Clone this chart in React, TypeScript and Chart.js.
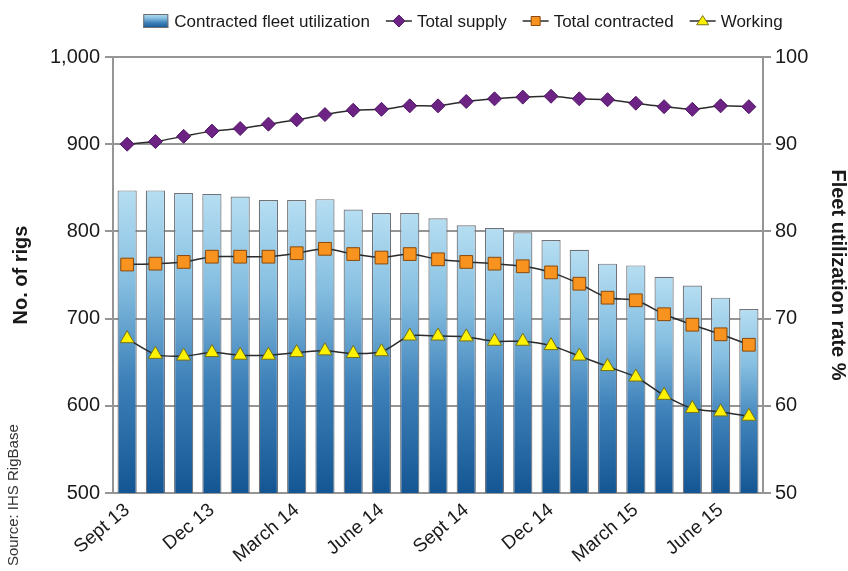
import React, { useEffect, useRef } from 'react';
import { Chart, registerables } from 'chart.js';

Chart.register(...registerables);

const categories = [
  'Sept 13', 'Oct 13', 'Nov 13', 'Dec 13', 'Jan 14', 'Feb 14', 'March 14', 'April 14',
  'May 14', 'June 14', 'July 14', 'Aug 14', 'Sept 14', 'Oct 14', 'Nov 14', 'Dec 14',
  'Jan 15', 'Feb 15', 'March 15', 'April 15', 'May 15', 'June 15', 'July 15',
];
const tickLabels = ['Sept 13', 'Dec 13', 'March 14', 'June 14', 'Sept 14', 'Dec 14', 'March 15', 'June 15'];

const contractedUtilization = [
  84.7, 84.7, 84.4, 84.3, 84.0, 83.6, 83.6, 83.7, 82.5, 82.1, 82.1, 81.5,
  80.7, 80.4, 79.9, 79.0, 77.9, 76.3, 76.1, 74.8, 73.8, 72.4, 71.1,
];
const totalSupply = [
  900, 903, 909, 915, 918, 923, 928, 934, 939, 940, 944, 944,
  949, 952, 954, 955, 952, 951, 947, 943, 940, 944, 943,
];
const totalContracted = [
  762, 763, 765, 771, 771, 771, 775, 780, 774, 770, 774, 768,
  765, 763, 760, 753, 740, 724, 721, 705, 693, 682, 670,
];
const working = [
  677, 659, 657, 661, 658, 658, 661, 663, 660, 662, 680, 680,
  679, 674, 674, 669, 657, 645, 633, 612, 597, 593, 588,
];

const seriesNames = ['Contracted fleet utilization', 'Total supply', 'Total contracted', 'Working'];
const leftAxisTitle = 'No. of rigs';
const rightAxisTitle = 'Fleet utilization rate %';
const sourceText = 'Source: IHS RigBase';

const FONT = '"Liberation Sans", Arial, Helvetica, sans-serif';
const LINE = '#2b2b2b';
const GRID = '#959595';

function makeBarGradient(ctx: CanvasRenderingContext2D, top: number, bottom: number) {
  const g = ctx.createLinearGradient(0, top, 0, bottom);
  g.addColorStop(0, '#b6def2');
  g.addColorStop(0.3, '#86bfe1');
  g.addColorStop(0.62, '#3f82ba');
  g.addColorStop(1, '#135693');
  return g;
}

function drawMarker(ctx: CanvasRenderingContext2D, kind: string, x: number, y: number, r: number, fill: string, stroke: string) {
  ctx.save();
  ctx.beginPath();
  if (kind === 'diamond') {
    ctx.moveTo(x, y - r);
    ctx.lineTo(x + r, y);
    ctx.lineTo(x, y + r);
    ctx.lineTo(x - r, y);
    ctx.closePath();
  } else if (kind === 'square') {
    const s = r * 0.75;
    ctx.rect(x - s, y - s, 2 * s, 2 * s);
  } else {
    const h = r * 0.9;
    ctx.moveTo(x, y - h);
    ctx.lineTo(x + r, y + h * 0.7);
    ctx.lineTo(x - r, y + h * 0.7);
    ctx.closePath();
  }
  ctx.fillStyle = fill;
  ctx.fill();
  ctx.lineWidth = 1;
  ctx.strokeStyle = stroke;
  ctx.stroke();
  ctx.restore();
}

export default function App() {
  const ref = useRef<HTMLCanvasElement>(null);

  useEffect(() => {
    document.body.style.margin = '0';
    if (!ref.current) return;

    const legendPlugin = {
      id: 'customLegend',
      afterDraw(chart: any) {
        const ctx: CanvasRenderingContext2D = chart.ctx;
        ctx.save();
        ctx.font = `17px ${FONT}`;
        ctx.textBaseline = 'middle';
        const iconW = 26;
        const gapIcon = 5;
        const gapItem = 16;
        const widths = seriesNames.map((n) => ctx.measureText(n).width);
        const total = widths.reduce((a, b) => a + b, 0) + seriesNames.length * (iconW + gapIcon) + (seriesNames.length - 1) * gapItem;
        let x = 463 - total / 2;
        const y = 21;
        const markers = [
          null,
          { kind: 'diamond', fill: '#6c2384', stroke: '#4e1563' },
          { kind: 'square', fill: '#f7931e', stroke: '#8a4a0c' },
          { kind: 'triangle', fill: '#fff200', stroke: '#76701a' },
        ];
        seriesNames.forEach((name, i) => {
          if (i === 0) {
            ctx.fillStyle = makeBarGradient(ctx, y - 7, y + 7);
            ctx.fillRect(x, y - 7, iconW - 1, 14);
            ctx.strokeStyle = '#6f6f6f';
            ctx.lineWidth = 1;
            ctx.strokeRect(x + 0.5, y - 6.5, iconW - 2, 13);
          } else {
            const m = markers[i]!;
            ctx.strokeStyle = LINE;
            ctx.lineWidth = 1.5;
            ctx.beginPath();
            ctx.moveTo(x, y);
            ctx.lineTo(x + iconW, y);
            ctx.stroke();
            drawMarker(ctx, m.kind, x + iconW / 2, y, 6, m.fill, m.stroke);
          }
          x += iconW + gapIcon;
          ctx.fillStyle = '#1a1a1a';
          ctx.textAlign = 'left';
          ctx.fillText(name, x, y + 1);
          x += widths[i] + gapItem;
        });

        // source note
        ctx.translate(18, 566);
        ctx.rotate(-Math.PI / 2);
        ctx.font = `15px ${FONT}`;
        ctx.fillStyle = '#333333';
        ctx.textAlign = 'left';
        ctx.textBaseline = 'alphabetic';
        ctx.fillText(sourceText, 0, 0);
        ctx.restore();
      },
    };

    const chart = new Chart(ref.current, {
      type: 'bar',
      data: {
        labels: categories,
        datasets: [
          {
            type: 'line',
            label: seriesNames[1],
            data: totalSupply,
            yAxisID: 'y',
            borderColor: LINE,
            borderWidth: 1.5,
            tension: 0.25,
            pointStyle: 'rectRot',
            pointRadius: 7,
            pointBackgroundColor: '#6c2384',
            pointBorderColor: '#501766',
            pointBorderWidth: 1,
            order: 1,
          } as any,
          {
            type: 'line',
            label: seriesNames[2],
            data: totalContracted,
            yAxisID: 'y',
            borderColor: LINE,
            borderWidth: 1.5,
            tension: 0.25,
            pointStyle: 'rect',
            pointRadius: 9,
            pointBackgroundColor: '#f7931e',
            pointBorderColor: '#8a4a0c',
            pointBorderWidth: 1,
            order: 2,
          } as any,
          {
            type: 'line',
            label: seriesNames[3],
            data: working,
            yAxisID: 'y',
            borderColor: LINE,
            borderWidth: 1.5,
            tension: 0.25,
            pointStyle: 'triangle',
            pointRadius: 8,
            pointBackgroundColor: '#fff200',
            pointBorderColor: '#76701a',
            pointBorderWidth: 1,
            order: 3,
          } as any,
          {
            type: 'bar',
            label: seriesNames[0],
            data: contractedUtilization,
            yAxisID: 'y1',
            backgroundColor: (c: any) => {
              const ch = c.chart;
              if (!ch.chartArea || c.type !== 'data') return '#6aa9d6';
              const s = ch.scales.y1;
              const top = s.getPixelForValue(c.raw);
              const bottom = s.getPixelForValue(s.min);
              return makeBarGradient(ch.ctx, top, bottom);
            },
            borderColor: '#6f7379',
            borderWidth: 1.2,
            barPercentage: 0.68,
            categoryPercentage: 1,
            order: 10,
          } as any,
        ],
      },
      options: {
        responsive: true,
        maintainAspectRatio: false,
        animation: false,
        layout: { padding: { top: 57, left: 0, right: 0, bottom: 0 } },
        plugins: {
          legend: { display: false },
          tooltip: { enabled: false },
        },
        scales: {
          x: {
            type: 'category',
            afterFit: (s: any) => { s.height = 78; },
            grid: { display: false, drawTicks: false },
            border: { display: true, color: GRID, width: 2 },
            ticks: {
              autoSkip: false,
              maxRotation: 40,
              minRotation: 40,
              padding: 6,
              color: '#1a1a1a',
              font: { family: FONT, size: 19 },
              callback: (_v: any, i: number) => (tickLabels.includes(categories[i]) ? categories[i] : ''),
            },
          },
          y: {
            type: 'linear',
            position: 'left',
            min: 500,
            max: 1000,
            afterFit: (s: any) => { s.width = 113; },
            grid: { color: GRID, lineWidth: 2, tickLength: 8, drawTicks: true },
            border: { display: true, color: GRID, width: 2 },
            ticks: {
              stepSize: 100,
              padding: 5,
              color: '#1a1a1a',
              font: { family: FONT, size: 20 },
              callback: (v: any) => Number(v).toLocaleString('en-US'),
            },
            title: {
              display: true,
              text: leftAxisTitle,
              color: '#1a1a1a',
              font: { family: FONT, size: 20, weight: 'bold', lineHeight: 1 },
              padding: { top: 11, bottom: 0 },
            },
          },
          y1: {
            type: 'linear',
            position: 'right',
            min: 50,
            max: 100,
            afterFit: (s: any) => { s.width = 85; },
            grid: { drawOnChartArea: false, color: GRID, lineWidth: 2, tickLength: 8 },
            border: { display: true, color: GRID, width: 2 },
            ticks: {
              stepSize: 10,
              padding: 4,
              color: '#1a1a1a',
              font: { family: FONT, size: 20 },
            },
            title: {
              display: true,
              text: rightAxisTitle,
              color: '#1a1a1a',
              font: { family: FONT, size: 20, weight: 'bold', lineHeight: 1 },
              padding: { top: 0, bottom: 0 },
            },
          },
        },
      } as any,
      plugins: [legendPlugin],
    });

    return () => chart.destroy();
  }, []);

  return (
    <div style={{ width: 848, height: 571, position: 'relative' }}>
      <canvas ref={ref} />
    </div>
  );
}
